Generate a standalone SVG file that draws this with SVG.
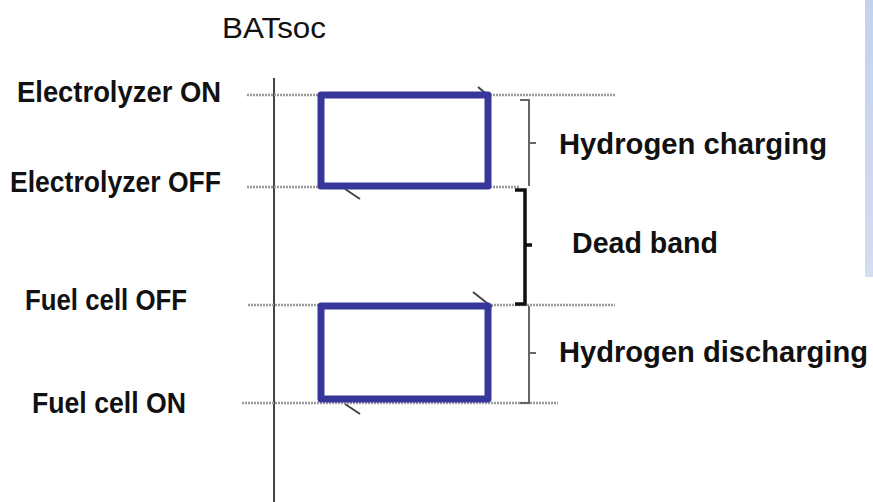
<svg xmlns="http://www.w3.org/2000/svg" width="873" height="502" viewBox="0 0 873 502">
<defs>
<linearGradient id="panel" x1="0" y1="0" x2="0" y2="1">
<stop offset="0" stop-color="#c3d2ee"/>
<stop offset="1" stop-color="#d4ddf1"/>
</linearGradient>
</defs>
<style>
.lbl{font-family:"Liberation Sans",Arial,sans-serif;font-weight:bold;fill:#111;}
.dot{stroke:#9a9a9a;stroke-width:2.5;stroke-dasharray:2 1;fill:none;}
.box{fill:none;stroke:#37379b;stroke-width:7;stroke-linejoin:round;}
.tick{stroke:#444;stroke-width:2;fill:none;}
.br{stroke:#666;stroke-width:2;fill:none;}
.brk{stroke:#111;stroke-width:3.5;fill:none;}
</style>
<rect width="873" height="502" fill="#ffffff"/>
<rect x="865" y="0" width="8" height="277" fill="url(#panel)"/>
<text x="222" y="38" font-family="Liberation Sans,Arial,sans-serif" font-size="30" fill="#111" textLength="104" lengthAdjust="spacingAndGlyphs">BATsoc</text>
<g id="axis"><line x1="274" y1="78" x2="274" y2="502" stroke="#444" stroke-width="2"/></g>
<g id="connectors">
<line class="dot" x1="247" y1="95" x2="615" y2="95"/>
<line class="dot" x1="247" y1="187" x2="520" y2="187"/>
<line class="dot" x1="248" y1="305" x2="615" y2="305"/>
<line class="dot" x1="242" y1="403" x2="558" y2="403"/>
<line class="tick" x1="478" y1="87" x2="490" y2="97"/>
<line class="tick" x1="345" y1="189" x2="360" y2="199"/>
<line class="tick" x1="473" y1="292" x2="492" y2="307"/>
<line class="tick" x1="345" y1="404" x2="360" y2="414"/>
</g>
<g id="label-electrolyzer-on"><text class="lbl" x="17" y="102" font-size="29" textLength="204" lengthAdjust="spacingAndGlyphs">Electrolyzer ON</text></g>
<g id="label-electrolyzer-off"><text class="lbl" x="10" y="192" font-size="29" textLength="211" lengthAdjust="spacingAndGlyphs">Electrolyzer OFF</text></g>
<g id="label-fuelcell-off"><text class="lbl" x="25" y="310" font-size="29" textLength="162" lengthAdjust="spacingAndGlyphs">Fuel cell OFF</text></g>
<g id="label-fuelcell-on"><text class="lbl" x="32" y="413" font-size="29" textLength="154" lengthAdjust="spacingAndGlyphs">Fuel cell ON</text></g>
<g id="box-charging"><rect class="box" x="321" y="95" width="167" height="91"/></g>
<g id="box-discharging"><rect class="box" x="321" y="306" width="167" height="93"/></g>
<g id="brace-charging">
<path class="br" d="M520 100 H529 V186 M529 143 H536"/>
<text class="lbl" x="559" y="154" font-size="29" textLength="268" lengthAdjust="spacingAndGlyphs">Hydrogen charging</text>
</g>
<g id="brace-deadband">
<path class="brk" d="M515 190 H525 V304 H515 M525 245 H532"/>
<text class="lbl" x="572" y="253" font-size="29" textLength="146" lengthAdjust="spacingAndGlyphs">Dead band</text>
</g>
<g id="brace-discharging">
<path class="br" d="M529 306 V403 H520 M529 353 H536"/>
<text class="lbl" x="559" y="362" font-size="29" textLength="309" lengthAdjust="spacingAndGlyphs">Hydrogen discharging</text>
</g>
</svg>
